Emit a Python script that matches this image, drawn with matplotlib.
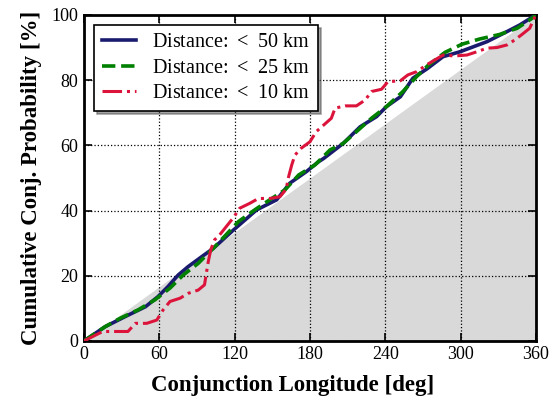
import matplotlib
matplotlib.use("Agg")
import matplotlib.pyplot as plt

# ── data ─────────────────────────────────────────────────────────────────────
blue_x = [0, 17, 33, 49, 59, 67, 75, 83, 94, 103, 119, 137.5, 153.5, 164, 177,
          187, 191, 206.5, 220, 233, 241, 252, 262, 273, 286, 299.5, 321, 337,
          347, 360]
blue_y = [0, 4.4, 7.5, 10.5, 13.6, 16.7, 20.2, 22.8, 25.9, 28.4, 34, 40.2, 43.3,
          48.4, 51.9, 55, 56, 60.6, 65.7, 68.8, 71.9, 74.9, 80.6, 83.4, 87.2,
          88.7, 91.8, 94.9, 96.9, 100]

green_x = [0, 17, 29, 43, 56.5, 68.5, 79, 91, 99, 103, 123, 136, 148, 160, 171,
           184, 196, 206.5, 229, 241, 254, 265, 274, 287.5, 301, 315, 331, 345,
           357, 360]
green_y = [0, 4.4, 7, 9.5, 12.6, 16.2, 20.2, 23.8, 26.9, 28.4, 36.6, 40.2, 43.3,
           46.3, 50.9, 54, 58.6, 60.6, 68.3, 71.9, 76.5, 81.1, 84.5, 88.5, 91,
           92.6, 94, 95.9, 99, 100]

red_x = [0, 15, 26, 35, 41, 50, 58, 63, 68.5, 76.5, 83, 91, 96, 97.5, 99, 101,
         104, 108, 119, 124, 132, 139, 148, 156, 161, 163, 165.5, 168, 173, 180,
         185, 197, 200, 208, 217, 224, 229, 237, 242, 252, 258, 265, 273, 286,
         295, 305, 313, 321, 329, 337, 343, 348.5, 355, 358, 360]
red_y = [0, 2.9, 2.9, 2.9, 5.4, 5.4, 6.4, 9.5, 12.1, 13.1, 14.6, 15.6, 17.2,
         20.8, 24.3, 28, 31, 32.5, 37.8, 40.7, 42.2, 43.7, 43.7, 44.2, 46.5,
         50.4, 54, 57, 59.1, 61.1, 64.2, 68.3, 71.4, 72.1, 72.1, 73.9, 76.5,
         77.2, 79.5, 79.8, 81.6, 82.6, 84.7, 87.7, 87.4, 87.7, 88.7, 89.8, 90,
         90.8, 92.3, 93.9, 95.9, 98.5, 100]

uniform_x = [0, 360]
uniform_y = [0, 100]

labels = [r"Distance: $<$ 50 km", r"Distance: $<$ 25 km", r"Distance: $<$ 10 km"]

plt.rcParams["font.family"] = ["Liberation Serif", "DejaVu Serif"]
plt.rcParams["mathtext.fontset"] = "custom"
plt.rcParams["mathtext.rm"] = "Liberation Serif"

fig = plt.figure(figsize=(5.56, 4.03), dpi=100)
ax = fig.add_axes([0.151, 0.154, 0.813, 0.809])

ax.fill_between(uniform_x, 0, uniform_y, color="#d9d9d9", lw=0, zorder=0)

ax.plot(blue_x, blue_y, color="#1a1a6e", lw=2.6, ls="-", label=labels[0], zorder=3)
ax.plot(green_x, green_y, color="#008000", lw=2.6, ls="--", label=labels[1], zorder=4)
ax.plot(red_x, red_y, color="#dc143c", lw=2.2, ls="-.", label=labels[2], zorder=5)

ax.set_xlim(0, 360)
ax.set_ylim(0, 100)
ax.set_xticks(range(0, 361, 60))
ax.set_yticks(range(0, 101, 20))
ax.tick_params(direction="in", length=6, width=1.2, labelsize=13,
               top=True, right=True, pad=4)
ax.grid(True, color="black", ls=":", lw=0.9)
ax.set_axisbelow(True)
for s in ax.spines.values():
    s.set_linewidth(2)

ax.set_xlabel("Conjunction Longitude [deg]", fontsize=16.5, fontweight="bold")
ax.xaxis.set_label_coords(0.462, -0.105)
ax.set_ylabel("Cumulative Conj. Probability [%]", fontsize=16.5, fontweight="bold",
              labelpad=7)

leg = ax.legend(loc="upper left", fontsize=14.5, shadow=True, fancybox=False,
                framealpha=1, edgecolor="black", handlelength=1.7,
                borderaxespad=0.5, labelspacing=0.32)
leg.get_frame().set_linewidth(1.2)

fig.savefig("out.png", dpi=100)
